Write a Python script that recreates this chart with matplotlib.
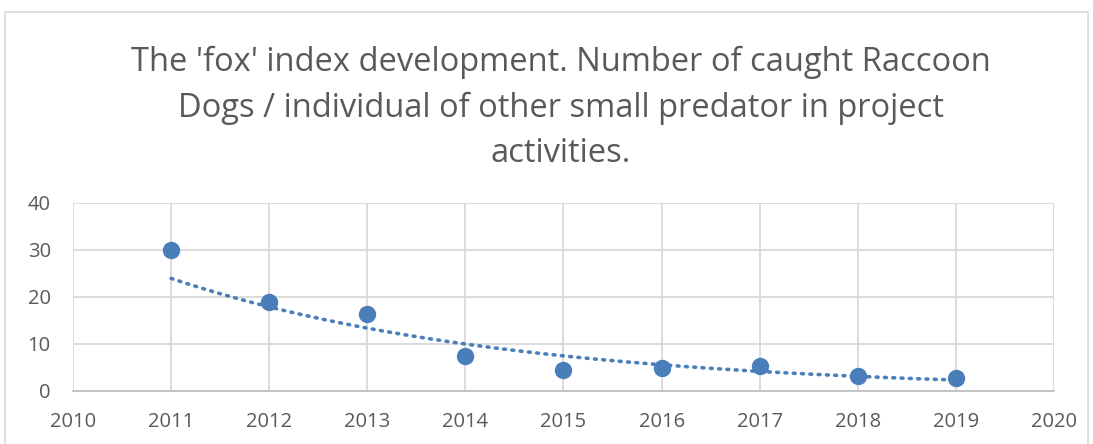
import numpy as np
import matplotlib.pyplot as plt
from matplotlib.patches import Rectangle

years = [2011, 2012, 2013, 2014, 2015, 2016, 2017, 2018, 2019]
fox_index = [30.0, 18.9, 16.4, 7.4, 4.5, 4.9, 5.3, 3.2, 2.8]
x_ticks = list(range(2010, 2021))
y_ticks = [0, 10, 20, 30, 40]

title = ("The 'fox' index development. Number of caught Raccoon\n"
         "Dogs / individual of other small predator in project\n"
         "activities.")

blue = '#4A7EBB'
grey_text = '#595959'
grid_col = '#D9D9D9'

plt.rcParams['font.family'] = ['Open Sans', 'DejaVu Sans']

fig = plt.figure(figsize=(10.93, 4.44), dpi=100)
fig.patches.append(Rectangle((0.005, -0.05), 0.99, 1.023, transform=fig.transFigure,
                             fill=False, edgecolor='#D9D9D9', linewidth=1.2))
ax = fig.add_axes([0.0668, 0.1194, 0.8975, 0.4234])

# exponential trendline, like Excel's
x = np.array(years, dtype=float)
y = np.array(fox_index)
b, a = np.polyfit(x - x[0], np.log(y), 1)
xs = np.linspace(x[0], x[-1], 200)
ax.plot(xs, np.exp(a + b * (xs - x[0])), linestyle=(0, (0.5, 1.8)), color=blue,
        linewidth=2.6, dash_capstyle='round', zorder=2)

ax.plot(years, fox_index, 'o', color=blue, markersize=11.5, zorder=3)

ax.set_xlim(x_ticks[0], x_ticks[-1])
ax.set_ylim(y_ticks[0], y_ticks[-1])
ax.set_xticks(x_ticks)
ax.set_yticks(y_ticks)
ax.grid(True, color=grid_col, linewidth=1.3)
ax.set_axisbelow(True)
for s in ['top', 'right', 'left']:
    ax.spines[s].set_visible(False)
ax.spines['bottom'].set_color('#BFBFBF')
ax.spines['bottom'].set_linewidth(1.3)
ax.tick_params(length=0, labelsize=14.5, labelcolor=grey_text)
ax.tick_params(axis='x', pad=15)
ax.tick_params(axis='y', pad=16)

fig.text(0.513, 0.757, title, ha='center', va='center', fontsize=23.5,
         color=grey_text, linespacing=1.5)

fig.savefig('out.png', dpi=100)
